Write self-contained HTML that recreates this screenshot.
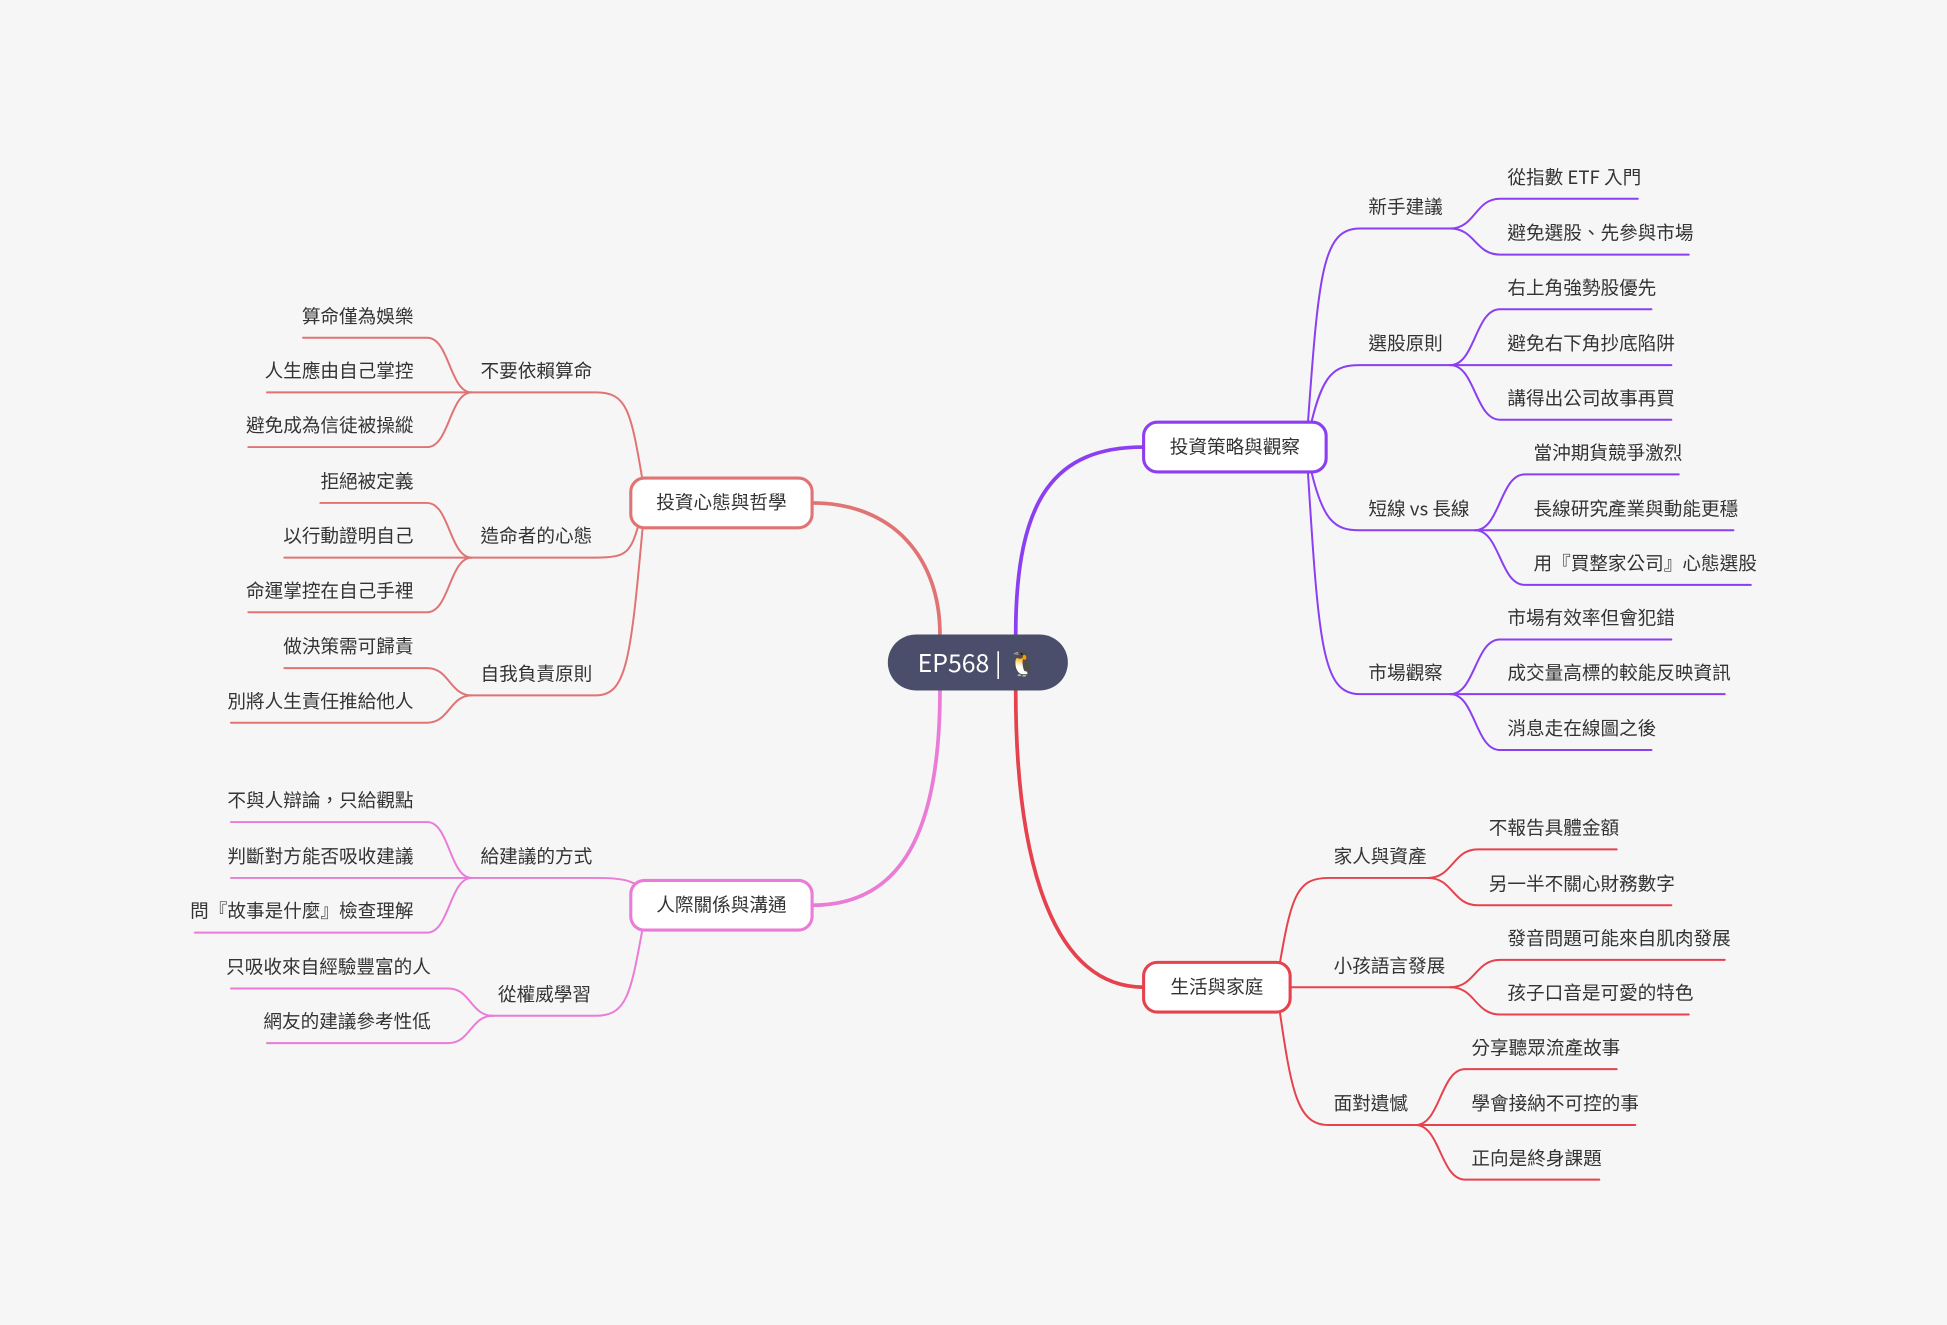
<!DOCTYPE html>
<html><head><meta charset="utf-8"><style>
html,body{margin:0;padding:0;background:#f6f6f6;}
svg{display:block}
text{font-family:"Noto Sans CJK TC","Liberation Sans",sans-serif;font-size:15px;fill:#333}
</style></head><body>
<svg width="1947" height="1325" viewBox="0 0 1568 1067" xmlns="http://www.w3.org/2000/svg">
<rect width="1568" height="1067" fill="#f6f6f6"/>
<g fill="none" stroke-linecap="round">
<path d="M818 511 C818 400,850 360,921 360" stroke="#8b3ef2" stroke-width="3"/>
<path d="M818 556 C818 700,850 795,921 795" stroke="#e5424d" stroke-width="3"/>
<path d="M757 511 C757 450,720 405,654 405" stroke="#e07474" stroke-width="3"/>
<path d="M757 556 C757 680,720 729,654 729" stroke="#ea7bd6" stroke-width="3"/>
<g stroke="#8b3ef2" stroke-width="1.6">
<path d="M1053 345 C1062 220,1065 184,1095 184 L1168 184"/>
<path d="M1055 345 C1065 300,1075 294,1095 294 L1168 294"/>
<path d="M1055 375 C1065 420,1075 427,1095 427 L1188 427"/>
<path d="M1053 375 C1062 520,1065 559,1095 559 L1168 559"/>
<path d="M1168 184 C1188 184,1188 160,1208 160 L1319 160"/>
<path d="M1168 184 C1188 184,1188 205,1208 205 L1360 205"/>
<path d="M1168 294 C1188 294,1188 249,1208 249 L1330 249"/>
<path d="M1168 294 L1346 294"/>
<path d="M1168 294 C1188 294,1188 338,1208 338 L1346 338"/>
<path d="M1188 427 C1208 427,1208 382,1228 382 L1352 382"/>
<path d="M1188 427 L1396 427"/>
<path d="M1188 427 C1208 427,1208 471,1228 471 L1410 471"/>
<path d="M1168 559 C1188 559,1188 515,1208 515 L1346 515"/>
<path d="M1168 559 L1389 559"/>
<path d="M1168 559 C1188 559,1188 604,1208 604 L1330 604"/>
</g>
<g stroke="#e5424d" stroke-width="1.6">
<path d="M1030 780 C1040 720,1045 707,1070 707 L1150 707"/>
<path d="M1039 795 L1168 795"/>
<path d="M1030 810 C1040 880,1045 906,1070 906 L1140 906"/>
<path d="M1150 707 C1170 707,1170 684,1190 684 L1302 684"/>
<path d="M1150 707 C1170 707,1170 729,1190 729 L1346 729"/>
<path d="M1168 795 C1188 795,1188 773,1208 773 L1389 773"/>
<path d="M1168 795 C1188 795,1188 817,1208 817 L1360 817"/>
<path d="M1140 906 C1160 906,1160 861,1180 861 L1302 861"/>
<path d="M1140 906 L1317 906"/>
<path d="M1140 906 C1160 906,1160 950,1180 950 L1288 950"/>
</g>
<g stroke="#e07474" stroke-width="1.6">
<path d="M518 390 C508 330,505 316,480 316 L380 316"/>
<path d="M515 420 C508 445,505 449,480 449 L380 449"/>
<path d="M518 420 C508 530,505 560,480 560 L380 560"/>
<path d="M380 316 C362 316,362 272,344 272 L244 272"/>
<path d="M380 316 L215 316"/>
<path d="M380 316 C362 316,362 360,344 360 L200 360"/>
<path d="M380 449 C362 449,362 405,344 405 L258 405"/>
<path d="M380 449 L229 449"/>
<path d="M380 449 C362 449,362 493,344 493 L200 493"/>
<path d="M380 560 C362 560,362 538,344 538 L229 538"/>
<path d="M380 560 C362 560,362 582,344 582 L186 582"/>
</g>
<g stroke="#ea7bd6" stroke-width="1.6">
<path d="M518 715 C508 710,505 707,480 707 L380 707"/>
<path d="M518 745 C508 800,505 818,480 818 L397 818"/>
<path d="M380 707 C362 707,362 662,344 662 L186 662"/>
<path d="M380 707 L186 707"/>
<path d="M380 707 C362 707,362 751,344 751 L157 751"/>
<path d="M397 818 C379 818,379 796,361 796 L186 796"/>
<path d="M397 818 C379 818,379 840,361 840 L215 840"/>
</g>
</g>
<rect x="715" y="511" width="145" height="45" rx="22.5" fill="#4b4e6b"/>
<text x="787.5" y="541" text-anchor="middle" style="fill:#fff;font-size:20px">EP568 | 🐧</text>
<rect x="921" y="340" width="147" height="40" rx="11" fill="#fff" stroke="#8b3ef2" stroke-width="2.5"/>
<text x="994.5" y="365" text-anchor="middle">投資策略與觀察</text>
<rect x="921" y="775" width="118" height="40" rx="11" fill="#fff" stroke="#e5424d" stroke-width="2.5"/>
<text x="980" y="800" text-anchor="middle">生活與家庭</text>
<rect x="508" y="385" width="146" height="40" rx="11" fill="#fff" stroke="#e07474" stroke-width="2.5"/>
<text x="581" y="410" text-anchor="middle">投資心態與哲學</text>
<rect x="508" y="709" width="146" height="40" rx="11" fill="#fff" stroke="#ea7bd6" stroke-width="2.5"/>
<text x="581" y="734" text-anchor="middle">人際關係與溝通</text>
<text x="1102" y="172">新手建議</text>
<text x="1102" y="282">選股原則</text>
<text x="1102" y="415">短線 vs 長線</text>
<text x="1102" y="547">市場觀察</text>
<text x="1214" y="148">從指數 ETF 入門</text>
<text x="1214" y="193">避免選股、先參與市場</text>
<text x="1214" y="237">右上角強勢股優先</text>
<text x="1214" y="282">避免右下角抄底陷阱</text>
<text x="1214" y="326">講得出公司故事再買</text>
<text x="1235" y="370">當沖期貨競爭激烈</text>
<text x="1235" y="415">長線研究產業與動能更穩</text>
<text x="1235" y="459">用『買整家公司』心態選股</text>
<text x="1214" y="503">市場有效率但會犯錯</text>
<text x="1214" y="547">成交量高標的較能反映資訊</text>
<text x="1214" y="592">消息走在線圖之後</text>
<text x="1074" y="695">家人與資產</text>
<text x="1074" y="783">小孩語言發展</text>
<text x="1074" y="894">面對遺憾</text>
<text x="1199" y="672">不報告具體金額</text>
<text x="1199" y="717">另一半不關心財務數字</text>
<text x="1214" y="761">發音問題可能來自肌肉發展</text>
<text x="1214" y="805">孩子口音是可愛的特色</text>
<text x="1185" y="849">分享聽眾流產故事</text>
<text x="1185" y="894">學會接納不可控的事</text>
<text x="1185" y="938">正向是終身課題</text>
<text x="387" y="304">不要依賴算命</text>
<text x="387" y="437">造命者的心態</text>
<text x="387" y="548">自我負責原則</text>
<text x="387" y="695">給建議的方式</text>
<text x="401" y="806">從權威學習</text>
<g text-anchor="end">
<text x="333" y="260">算命僅為娛樂</text>
<text x="333" y="304">人生應由自己掌控</text>
<text x="333" y="348">避免成為信徒被操縱</text>
<text x="333" y="393">拒絕被定義</text>
<text x="333" y="437">以行動證明自己</text>
<text x="333" y="481">命運掌控在自己手裡</text>
<text x="333" y="526">做決策需可歸責</text>
<text x="333" y="570">別將人生責任推給他人</text>
<text x="333" y="650">不與人辯論，只給觀點</text>
<text x="333" y="695">判斷對方能否吸收建議</text>
<text x="333" y="739">問『故事是什麼』檢查理解</text>
<text x="347" y="784">只吸收來自經驗豐富的人</text>
<text x="347" y="828">網友的建議參考性低</text>
</g>
</svg>
</body></html>
